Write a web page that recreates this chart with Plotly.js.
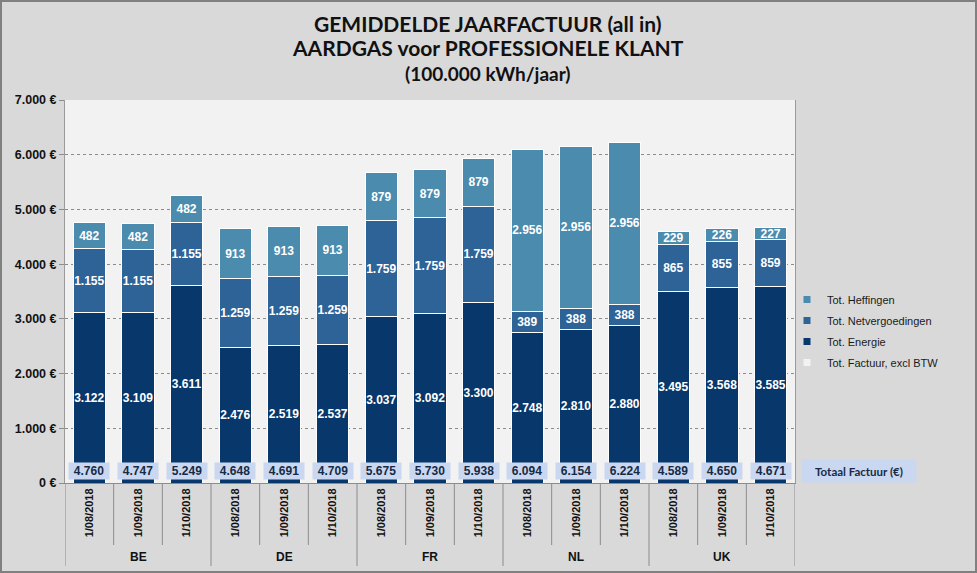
<!DOCTYPE html>
<html>
<head>
<meta charset="utf-8">
<script src="https://cdn.plot.ly/plotly-3.0.1.min.js"></script>
<style>
  html, body { margin: 0; padding: 0; background: #d9d9d9; }
  #wrap { position: relative; width: 977px; height: 573px; }
  #chart { width: 977px; height: 573px; }
  #frame { position: absolute; left: 0; top: 0; width: 977px; height: 573px; box-sizing: border-box;
           border: 2px solid #808080; pointer-events: none; }
</style>
</head>
<body>
<div id="wrap"><div id="chart"></div><div id="frame"></div></div>
<script>
// ---- data ----
const countries = ["BE", "DE", "FR", "NL", "UK"];
const dates = ["1/08/2018", "1/09/2018", "1/10/2018"];
const energie = [3122, 3109, 3611, 2476, 2519, 2537, 3037, 3092, 3300, 2748, 2810, 2880, 3495, 3568, 3585];
const netvergoedingen = [1155, 1155, 1155, 1259, 1259, 1259, 1759, 1759, 1759, 389, 388, 388, 865, 855, 859];
const heffingen = [482, 482, 482, 913, 913, 913, 879, 879, 879, 2956, 2956, 2956, 229, 226, 227];
const totaalFactuur = [4760, 4747, 5249, 4648, 4691, 4709, 5675, 5730, 5938, 6094, 6154, 6224, 4589, 4650, 4671];
const yTicks = [0, 1000, 2000, 3000, 4000, 5000, 6000, 7000];
const titleLines = ["GEMIDDELDE JAARFACTUUR (all in)", "AARDGAS voor PROFESSIONELE KLANT", "(100.000 kWh/jaar)"];

// ---- derived ----
const tickText = [];
countries.forEach(() => dates.forEach(d => tickText.push(d)));
const xIdx = tickText.map((_, i) => i);
const fmt = n => String(Math.round(n)).replace(/\B(?=(\d{3})+(?!\d))/g, ".");

const C_ENERGIE = "#08386b";
const C_NET = "#2e6398";
const C_HEFF = "#4b8bae";
const FONT = "Liberation Sans, Arial, sans-serif";
const TFONT = "Lato, sans-serif";

function barTrace(name, vals, color) {
  return {
    type: "bar", name: name, x: xIdx, y: vals, showlegend: false,
    marker: { color: color, line: { color: "#ffffff", width: 1 } },
    texttemplate: "%{y:,.0f}", textposition: "inside", insidetextanchor: "middle",
    textangle: 0, constraintext: "none",
    insidetextfont: { family: FONT, size: 12, color: "#ffffff", weight: "bold" },
    hoverinfo: "skip"
  };
}
function legendProxy(name, color) {
  return {
    type: "scatter", mode: "markers", name: name, legendgroup: name, x: [null], y: [null],
    marker: { symbol: "square", size: 7, color: color, line: { width: 0 } },
    hoverinfo: "skip"
  };
}

const traces = [
  barTrace("Tot. Energie", energie, C_ENERGIE),
  barTrace("Tot. Netvergoedingen", netvergoedingen, C_NET),
  barTrace("Tot. Heffingen", heffingen, C_HEFF),
  legendProxy("Tot. Heffingen", C_HEFF),
  legendProxy("Tot. Netvergoedingen", C_NET),
  legendProxy("Tot. Energie", C_ENERGIE),
  legendProxy("Tot. Factuur, excl BTW", "#f2f2f2")
];

// plot area geometry (for items outside the plot area)
const PLOT_L = 65, PLOT_W = 730, PLOT_B = 483, PLOT_H = 383;
const px2x = px => (px - PLOT_L) / PLOT_W;
const px2y = py => (PLOT_B - py) / PLOT_H;

const shapes = [];
const annotations = [];
for (let i = 0; i < tickText.length - 1; i++) {
  const isGroup = (i + 1) % dates.length === 0;
  shapes.push({ type: "line", xref: "x", yref: "paper", x0: i + 0.5, x1: i + 0.5,
    y0: 0, y1: isGroup ? px2y(566) : px2y(545), line: { color: "#8c8c8c", width: 1 } });
}
[-0.5, tickText.length - 0.5].forEach(x => shapes.push({ type: "line", xref: "x", yref: "paper",
  x0: x, x1: x, y0: 0, y1: px2y(566), line: { color: "#8c8c8c", width: 1 } }));

countries.forEach((c, g) => annotations.push({
  xref: "x", yref: "paper", x: g * dates.length + (dates.length - 1) / 2, y: px2y(557),
  text: "<b>" + c + "</b>", showarrow: false, yanchor: "middle", xanchor: "center",
  font: { family: FONT, size: 12, color: "#111111" }
}));

totaalFactuur.forEach((t, i) => annotations.push({
  xref: "x", yref: "y", x: i, y: 220, text: "<b>" + fmt(t) + "</b>", showarrow: false,
  xanchor: "center", yanchor: "middle",
  bgcolor: "#c9d8f0", width: 40, height: 16, borderpad: 0,
  font: { family: FONT, size: 12, color: "#172a45" }
}));
annotations.push({
  xref: "paper", yref: "y", x: px2x(859), y: 220, text: "<b>Totaal Factuur (€)</b>",
  showarrow: false, xanchor: "center", yanchor: "middle", bgcolor: "#c9d8f0", width: 112, height: 20,
  font: { family: TFONT, size: 11.5, color: "#172a45" }
});

// title lines
const titleY = [23, 47, 73];
const titleSize = [21, 21, 19];
titleLines.forEach((t, i) => annotations.push({
  xref: "paper", yref: "paper", x: px2x(488), y: px2y(titleY[i]), xanchor: "center", yanchor: "middle",
  text: "<b>" + t + "</b>", showarrow: false,
  font: { family: TFONT, size: titleSize[i], color: "#111111" }
}));

const layout = {
  width: 977, height: 573,
  paper_bgcolor: "#d9d9d9", plot_bgcolor: "#f2f2f2",
  separators: ",.",
  margin: { l: 65, r: 182, t: 100, b: 90 },
  barmode: "stack", bargap: 0.34,
  font: { family: FONT, color: "#111111" },
  xaxis: {
    range: [-0.5, tickText.length - 0.5], tickmode: "array", tickvals: xIdx, ticktext: tickText,
    tickangle: -90, tickfont: { family: FONT, size: 11, color: "#111111", weight: "bold" },
    showgrid: false, zeroline: false, showline: true, linecolor: "#8c8c8c", linewidth: 1,
    ticks: "", fixedrange: true
  },
  yaxis: {
    range: [0, 7000], tickmode: "array", tickvals: yTicks, ticktext: yTicks.map(v => fmt(v) + " €"),
    tickfont: { family: FONT, size: 12.5, color: "#111111", weight: "bold" },
    showgrid: true, gridcolor: "#8c8c8c", griddash: "dot", gridwidth: 1,
    zeroline: false, showline: true, mirror: true, linecolor: "#9a9a9a", linewidth: 1,
    ticks: "outside", ticklen: 5, tickcolor: "#8c8c8c", fixedrange: true
  },
  legend: {
    x: px2x(787), xanchor: "left", y: px2y(285), yanchor: "top",
    bgcolor: "rgba(0,0,0,0)", traceorder: "grouped",
    font: { family: FONT, size: 11, color: "#1a1a1a" }, tracegroupgap: 2
  },
  shapes: shapes,
  annotations: annotations
};

Plotly.newPlot("chart", traces, layout, { displayModeBar: false, staticPlot: true });
</script>
</body>
</html>
